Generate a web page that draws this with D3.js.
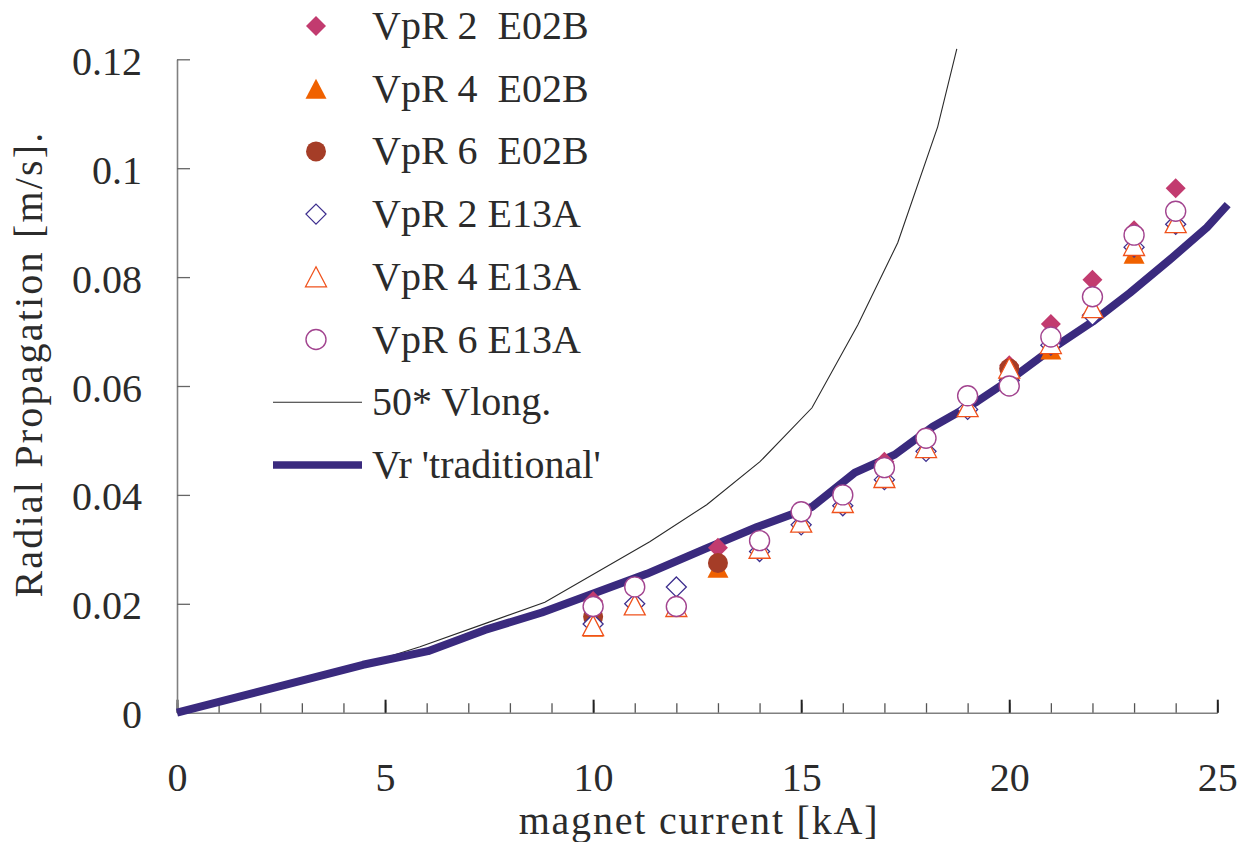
<!DOCTYPE html>
<html>
<head>
<meta charset="utf-8">
<script src="https://cdn.jsdelivr.net/npm/d3@7"></script>
<style>
  html, body { margin: 0; padding: 0; background: #fff; }
  svg { display: block; }
</style>
</head>
<body>
<svg id="chart" width="1242" height="842"></svg>
<script>
// ---- data -------------------------------------------------------------
// magnet current [kA] and radial propagation [m/s] for each measured series
const vpr2E02B_kA = [10, 13, 17, 20, 21, 22, 23, 24];
const vpr2E02B_v  = [0.0205, 0.0303, 0.0461, 0.0638, 0.0714, 0.0795, 0.0886, 0.0963];

const vpr4E02B_kA = [10, 13, 17, 20, 21, 23];
const vpr4E02B_v  = [0.0158, 0.0266, 0.0435, 0.0630, 0.0667, 0.0843];

const vpr6E02B_kA = [10, 13, 20];
const vpr6E02B_v  = [0.0176, 0.0275, 0.0632];

const vpr2E13A_kA = [10, 11, 12, 14, 15, 16, 17, 18, 19, 20, 21, 22, 23, 24];
const vpr2E13A_v  = [0.0163, 0.0200, 0.0231, 0.0296, 0.0345, 0.0380, 0.0428, 0.0480, 0.0557, 0.0610, 0.0675, 0.0730, 0.0855, 0.0897];

const vpr4E13A_kA = [10, 11, 12, 14, 15, 16, 17, 18, 19, 20, 21, 22, 23, 24];
const vpr4E13A_v  = [0.0160, 0.0198, 0.0195, 0.0302, 0.0350, 0.0386, 0.0432, 0.0487, 0.0562, 0.0633, 0.0678, 0.0744, 0.0858, 0.0900];

const vpr6E13A_kA = [10, 11, 12, 14, 15, 16, 17, 18, 19, 20, 21, 22, 23, 24];
const vpr6E13A_v  = [0.0195, 0.0231, 0.0195, 0.0316, 0.0369, 0.0400, 0.0450, 0.0504, 0.0582, 0.0600, 0.0690, 0.0764, 0.0877, 0.0921];

// 50 x longitudinal propagation velocity
const vlong_kA = [0, 4.47, 5.84, 7.45, 8.84, 11.36, 12.73, 14.01, 15.26, 16.36, 17.32, 18.28, 18.74];
const vlong_v  = [0, 0.0088, 0.0121, 0.0165, 0.0203, 0.0314, 0.0382, 0.0461, 0.0560, 0.0712, 0.0863, 0.1076, 0.1219];

// traditional radial propagation estimate
const trad_kA = [0, 4.47, 6.03, 7.40, 8.77, 11.29, 12.69, 13.94, 15.26, 16.29, 17.25, 18.16, 19.22, 20.1, 21.0, 22.0, 22.9, 23.86, 24.75, 25.25];
const trad_v  = [0, 0.0088, 0.0113, 0.0152, 0.0184, 0.0255, 0.0301, 0.0341, 0.0378, 0.0441, 0.0474, 0.0525, 0.0571, 0.0616, 0.0667, 0.0718, 0.0771, 0.0832, 0.0891, 0.0933];

const xTicks = [0, 5, 10, 15, 20, 25];
const xMinorTicks = d3.range(0, 26, 1);
const yTicks = [0, 0.02, 0.04, 0.06, 0.08, 0.1, 0.12];
const yTickLabels = ["0", "0.02", "0.04", "0.06", "0.08", "0.1", "0.12"];

const legendLabels = ["VpR 2  E02B", "VpR 4  E02B", "VpR 6  E02B",
                      "VpR 2 E13A", "VpR 4 E13A", "VpR 6 E13A",
                      "50* Vlong.", "Vr 'traditional'"];

// ---- layout -----------------------------------------------------------
const FONT = "'Liberation Serif', 'Times New Roman', Times, 'DejaVu Serif', serif";
const INK = "#2b2b2b";
const svg = d3.select("#chart");
const x = d3.scaleLinear().domain([0, 25]).range([177, 1217.3]);
const y = d3.scaleLinear().domain([0, 0.12]).range([712.7, 59.3]);

// marker shapes (20 px boxes)
const shapes = {
  diamond: "M0,-10L10,0L0,10L-10,0Z",
  triangle: "M0,-10L10.5,10L-10.5,10Z",
  circle: d3.symbol().type(d3.symbolCircle).size(Math.PI * 100)()
};

const series = [
  { kA: vpr2E02B_kA, v: vpr2E02B_v, shape: "diamond",  fill: "#c23b6f", stroke: "#c23b6f", sw: 0 },
  { kA: vpr4E02B_kA, v: vpr4E02B_v, shape: "triangle", fill: "#f06100", stroke: "#f06100", sw: 0 },
  { kA: vpr6E02B_kA, v: vpr6E02B_v, shape: "circle",   fill: "#a53d27", stroke: "#a53d27", sw: 0 },
  { kA: vpr2E13A_kA, v: vpr2E13A_v, shape: "diamond",  fill: "#ffffff", stroke: "#3d2e8e", sw: 1.3 },
  { kA: vpr4E13A_kA, v: vpr4E13A_v, shape: "triangle", fill: "#ffffff", stroke: "#f0521c", sw: 1.3 },
  { kA: vpr6E13A_kA, v: vpr6E13A_v, shape: "circle",   fill: "#ffffff", stroke: "#a2448f", sw: 1.4 }
];

function styleText(sel) {
  sel.attr("font-family", FONT)
     .style("font-family", FONT)
     .style("font-size", "40px")
     .attr("fill", INK)
     .style("fill", INK);
}

// ---- axes -------------------------------------------------------------
const xMinor = svg.append("g")
  .attr("transform", `translate(0,${y(0)})`)
  .call(d3.axisBottom(x).tickValues(xMinorTicks).tickSizeInner(-9.5).tickSizeOuter(0).tickFormat(""));
xMinor.select(".domain").attr("stroke", "#808080").attr("stroke-width", 1.6);
xMinor.selectAll(".tick line").attr("stroke", "#555").attr("stroke-width", 1.3);
xMinor.selectAll(".tick text").remove();

const xMajor = svg.append("g")
  .attr("transform", `translate(0,${y(0)})`)
  .call(d3.axisBottom(x).tickValues(xTicks).tickSizeInner(-13).tickSizeOuter(0).tickFormat(d3.format("d")));
xMajor.select(".domain").remove();
xMajor.selectAll(".tick line").attr("stroke", "#222").attr("stroke-width", 2);
xMajor.selectAll(".tick text").attr("y", 78).attr("dy", 0).call(styleText);

const yAxis = svg.append("g")
  .attr("transform", `translate(${x(0)},0)`)
  .call(d3.axisLeft(y).tickValues(yTicks).tickSizeInner(-13).tickSizeOuter(0)
        .tickPadding(35).tickFormat((d, i) => yTickLabels[i]));
yAxis.select(".domain").attr("stroke", "#808080").attr("stroke-width", 1.6);
yAxis.selectAll(".tick line").attr("stroke", "#666").attr("stroke-width", 1.3)
  .filter(d => d === 0).remove();
yAxis.selectAll(".tick text").attr("dy", 15).call(styleText);

// axis titles
svg.append("text")
  .attr("x", 699).attr("y", 834)
  .attr("text-anchor", "middle")
  .call(styleText)
  .style("letter-spacing", "1.8px")
  .text("magnet current [kA]");

svg.append("text")
  .attr("transform", "translate(42,364) rotate(-90)")
  .attr("text-anchor", "middle")
  .call(styleText)
  .style("letter-spacing", "2.2px")
  .text("Radial Propagation [m/s].");

// ---- lines ------------------------------------------------------------
const line = d3.line().x(d => x(d[0])).y(d => y(d[1]));

svg.append("path")
  .datum(d3.zip(vlong_kA, vlong_v))
  .attr("d", line)
  .attr("fill", "none").attr("stroke", "#2a2a2a").attr("stroke-width", 1.1);

svg.append("path")
  .datum(d3.zip(trad_kA, trad_v))
  .attr("d", line)
  .attr("fill", "none").attr("stroke", "#3a2a7e").attr("stroke-width", 8)
  .attr("stroke-linejoin", "round");

// ---- markers ----------------------------------------------------------
series.forEach(s => {
  svg.append("g").selectAll("path")
    .data(d3.zip(s.kA, s.v))
    .join("path")
    .attr("d", shapes[s.shape])
    .attr("transform", d => `translate(${x(d[0])},${y(d[1])})`)
    .attr("fill", s.fill)
    .attr("stroke", s.sw ? s.stroke : "none")
    .attr("stroke-width", s.sw);
});

// ---- legend -----------------------------------------------------------
const legend = svg.append("g");
const rowY = i => 26 + i * 62.7;
series.forEach((s, i) => {
  legend.append("path")
    .attr("d", shapes[s.shape])
    .attr("transform", `translate(316,${rowY(i)})`)
    .attr("fill", s.fill)
    .attr("stroke", s.sw ? s.stroke : "none")
    .attr("stroke-width", s.sw);
});
legend.append("line")
  .attr("x1", 273).attr("x2", 362).attr("y1", rowY(6)).attr("y2", rowY(6))
  .attr("stroke", "#2a2a2a").attr("stroke-width", 1.1);
legend.append("line")
  .attr("x1", 273).attr("x2", 362).attr("y1", rowY(7)).attr("y2", rowY(7))
  .attr("stroke", "#3a2a7e").attr("stroke-width", 7.5);

legend.selectAll("text.lbl")
  .data(legendLabels)
  .join("text")
  .attr("class", "lbl")
  .attr("x", 372)
  .attr("y", (d, i) => rowY(i) + 13)
  .attr("xml:space", "preserve")
  .style("white-space", "pre")
  .call(styleText)
  .text(d => d);
</script>
</body>
</html>
